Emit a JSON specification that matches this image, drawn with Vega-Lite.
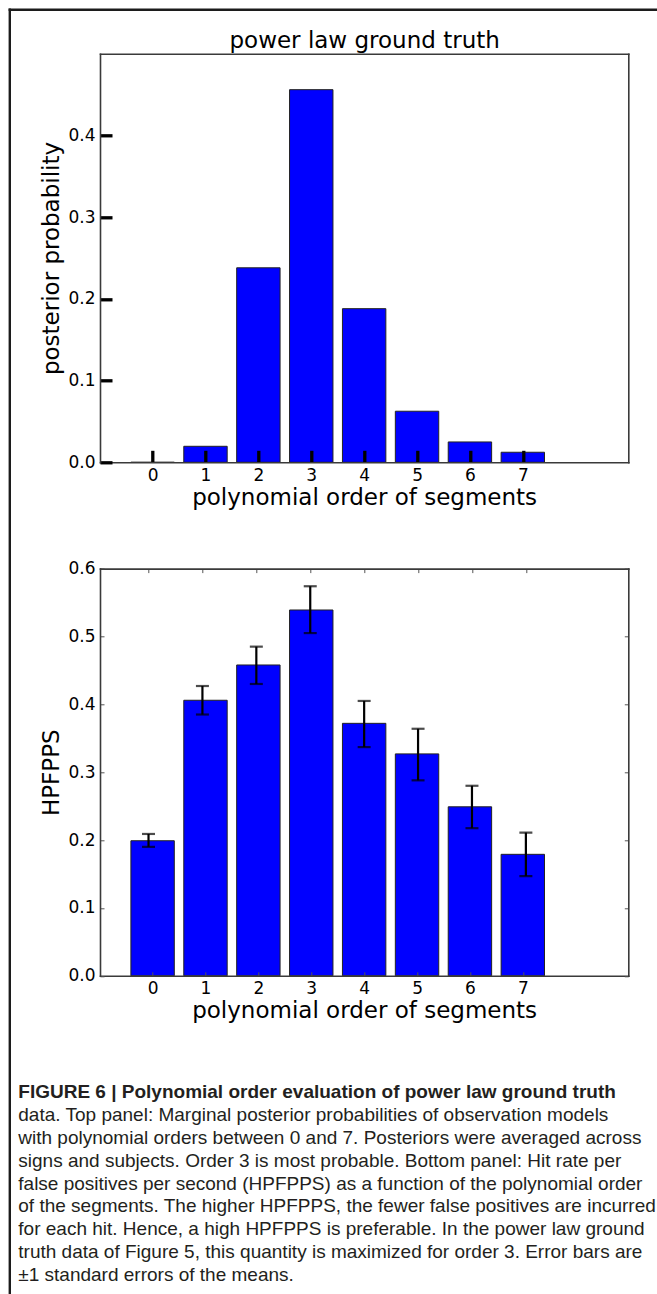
{
  "$schema": "https://vega.github.io/schema/vega-lite/v6.json",
  "autosize": {"type": "none"},
  "padding": {"left": 9.3, "top": 9.3, "right": 0, "bottom": 0},
  "width": 647.7,
  "height": 1284.7,
  "background": "white",
  "config": {
    "view": {"stroke": null},
    "font": "DejaVu Sans",
    "axis": {"labelFont": "DejaVu Sans", "titleFont": "DejaVu Sans", "labelColor": "black", "titleColor": "black", "grid": false, "titleFontWeight": "normal", "labelFontSize": 17, "titleFontSize": 23, "labelFlush": false, "domainCap": "square"}
  },
  "datasets": {
    "posterior": [
      {"order": 0, "prob": 0.0},
      {"order": 1, "prob": 0.0196},
      {"order": 2, "prob": 0.238},
      {"order": 3, "prob": 0.456},
      {"order": 4, "prob": 0.188},
      {"order": 5, "prob": 0.0625},
      {"order": 6, "prob": 0.0249},
      {"order": 7, "prob": 0.0123}
    ],
    "hpfpps": [
      {"order": 0, "mean": 0.199, "lo": 0.190, "hi": 0.209},
      {"order": 1, "mean": 0.406, "lo": 0.385, "hi": 0.427},
      {"order": 2, "mean": 0.458, "lo": 0.430, "hi": 0.485},
      {"order": 3, "mean": 0.539, "lo": 0.505, "hi": 0.574},
      {"order": 4, "mean": 0.372, "lo": 0.337, "hi": 0.405},
      {"order": 5, "mean": 0.327, "lo": 0.288, "hi": 0.364},
      {"order": 6, "mean": 0.249, "lo": 0.2175, "hi": 0.280},
      {"order": 7, "mean": 0.179, "lo": 0.147, "hi": 0.211}
    ],
    "captionBold": [
      {"line": 1, "text": "FIGURE 6 | Polynomial order evaluation of power law ground truth"}
    ],
    "caption": [
      {"line": 2, "text": "data. Top panel: Marginal posterior probabilities of observation models"},
      {"line": 3, "text": "with polynomial orders between 0 and 7. Posteriors were averaged across"},
      {"line": 4, "text": "signs and subjects. Order 3 is most probable. Bottom panel: Hit rate per"},
      {"line": 5, "text": "false positives per second (HPFPPS) as a function of the polynomial order"},
      {"line": 6, "text": "of the segments. The higher HPFPPS, the fewer false positives are incurred"},
      {"line": 7, "text": "for each hit. Hence, a high HPFPPS is preferable. In the power law ground"},
      {"line": 8, "text": "truth data of Figure 5, this quantity is maximized for order 3. Error bars are"},
      {"line": 9, "text": "±1 standard errors of the means."}
    ]
  },
  "resolve": {"scale": {"x": "independent", "y": "independent"}, "axis": {"x": "independent", "y": "independent"}},
  "layer": [
    {
      "data": {"name": "posterior"},
      "mark": {"type": "point", "opacity": 0},
      "encoding": {
        "x": {"field": "order", "type": "quantitative", "scale": {"domain": [0, 1], "nice": false, "zero": false},
          "axis": {"orient": "top", "offset": 0, "domain": true, "domainColor": "#1c1c1c", "domainWidth": 2.4, "ticks": false, "labels": false, "title": null}},
        "y": {"field": "prob", "type": "quantitative", "scale": {"domain": [0, 1], "nice": false, "zero": false},
          "axis": {"orient": "left", "offset": 0, "domain": true, "domainColor": "#1c1c1c", "domainWidth": 2.4, "ticks": false, "labels": false, "title": null}}
      }
    },
    {
      "data": {"name": "posterior"},
      "mark": {"type": "bar", "orient": "vertical", "width": 43.4, "fill": "#0000ff", "stroke": "#222222", "strokeWidth": 1},
      "encoding": {
        "x": {"field": "order", "type": "quantitative", "scale": {"domain": [-0.9, 8.9], "range": [90.7, 619], "nice": false, "zero": false},
          "axis": {"orient": "bottom", "offset": -831.7, "values": [0, 1, 2, 3, 4, 5, 6, 7], "format": "d", "tickSize": -12, "tickWidth": 3.3, "tickColor": "black", "domainColor": "#3a3a3a", "domainWidth": 1.6, "labelPadding": 17, "title": "polynomial order of segments", "titlePadding": 3, "zindex": 1}},
        "y": {"field": "prob", "type": "quantitative", "scale": {"domain": [0, 0.5], "range": [453, 44.4], "nice": false, "zero": false},
          "axis": {"orient": "left", "offset": -90.7, "values": [0, 0.1, 0.2, 0.3, 0.4], "format": ".1f", "tickSize": -12, "tickWidth": 3.3, "tickColor": "black", "domainColor": "#3a3a3a", "domainWidth": 1.6, "labelPadding": 17, "title": "posterior probability", "titlePadding": 4, "zindex": 1}}
      }
    },
    {
      "data": {"name": "posterior"},
      "mark": {"type": "point", "opacity": 0},
      "encoding": {
        "x": {"field": "order", "type": "quantitative", "scale": {"domain": [-0.9, 8.9], "range": [90.7, 619], "nice": false, "zero": false},
          "axis": {"orient": "top", "offset": -44.4, "ticks": false, "labels": false, "domainColor": "#3a3a3a", "domainWidth": 1.6, "title": "power law ground truth", "titlePadding": 1}},
        "y": {"field": "prob", "type": "quantitative", "scale": {"domain": [0, 0.5], "range": [453, 44.4], "nice": false, "zero": false},
          "axis": {"orient": "right", "offset": -28.7, "ticks": false, "labels": false, "domainColor": "#3a3a3a", "domainWidth": 1.6, "title": null}}
      }
    },
    {
      "data": {"name": "hpfpps"},
      "mark": {"type": "bar", "orient": "vertical", "width": 43.4, "fill": "#0000ff", "stroke": "#222222", "strokeWidth": 1},
      "encoding": {
        "x": {"field": "order", "type": "quantitative", "scale": {"domain": [-0.9, 8.9], "range": [90.7, 619], "nice": false, "zero": false},
          "axis": {"orient": "bottom", "offset": -318.2, "values": [0, 1, 2, 3, 4, 5, 6, 7], "format": "d", "tickSize": -4, "tickWidth": 1, "tickColor": "#555555", "domainColor": "#3a3a3a", "domainWidth": 1.6, "labelPadding": 9, "title": "polynomial order of segments", "titlePadding": 3, "zindex": 1}},
        "y": {"field": "mean", "type": "quantitative", "scale": {"domain": [0, 0.6], "range": [966.5, 559.3], "nice": false, "zero": false},
          "axis": {"orient": "left", "offset": -90.7, "values": [0, 0.1, 0.2, 0.3, 0.4, 0.5, 0.6], "format": ".1f", "tickSize": -4, "tickWidth": 1, "tickColor": "#555555", "domainColor": "#3a3a3a", "domainWidth": 1.6, "labelPadding": 9, "title": "HPFPPS", "titlePadding": 4, "zindex": 1}}
      }
    },
    {
      "data": {"name": "hpfpps"},
      "mark": {"type": "errorbar", "ticks": {"size": 13, "thickness": 2.2, "color": "black"}, "rule": {"strokeWidth": 2.2, "color": "black"}},
      "encoding": {
        "x": {"field": "order", "type": "quantitative", "scale": {"domain": [-0.9, 8.9], "range": [90.7, 619], "nice": false, "zero": false},
          "axis": {"orient": "top", "offset": -559.3, "values": [0, 1, 2, 3, 4, 5, 6, 7], "tickSize": -4, "tickWidth": 1, "tickColor": "#555555", "labels": false, "domainColor": "#3a3a3a", "domainWidth": 1.6, "title": null, "zindex": 1}},
        "y": {"field": "lo", "type": "quantitative", "scale": {"domain": [0, 0.6], "range": [966.5, 559.3], "nice": false, "zero": false},
          "axis": {"orient": "right", "offset": -28.7, "values": [0, 0.1, 0.2, 0.3, 0.4, 0.5, 0.6], "tickSize": -4, "tickWidth": 1, "tickColor": "#555555", "labels": false, "domainColor": "#3a3a3a", "domainWidth": 1.6, "title": null, "zindex": 1}},
        "y2": {"field": "hi"}
      }
    },
    {
      "encoding": {
        "x": {"datum": 0, "type": "quantitative", "scale": {"domain": [0, 1], "range": [9, 647.7], "nice": false, "zero": false}, "axis": null},
        "y": {"field": "line", "type": "quantitative", "scale": {"domain": [1, 9], "range": [1082.7, 1265.7], "nice": false, "zero": false}, "axis": null},
        "text": {"field": "text", "type": "nominal"}
      },
      "layer": [
        {
          "data": {"name": "captionBold"},
          "mark": {"type": "text", "align": "left", "baseline": "middle", "font": "Liberation Sans", "fontSize": 19, "fontWeight": "bold", "color": "#231f20"}
        },
        {
          "data": {"name": "caption"},
          "mark": {"type": "text", "align": "left", "baseline": "middle", "font": "Liberation Sans", "fontSize": 19, "fontWeight": "normal", "color": "#231f20"}
        }
      ]
    }
  ]
}
